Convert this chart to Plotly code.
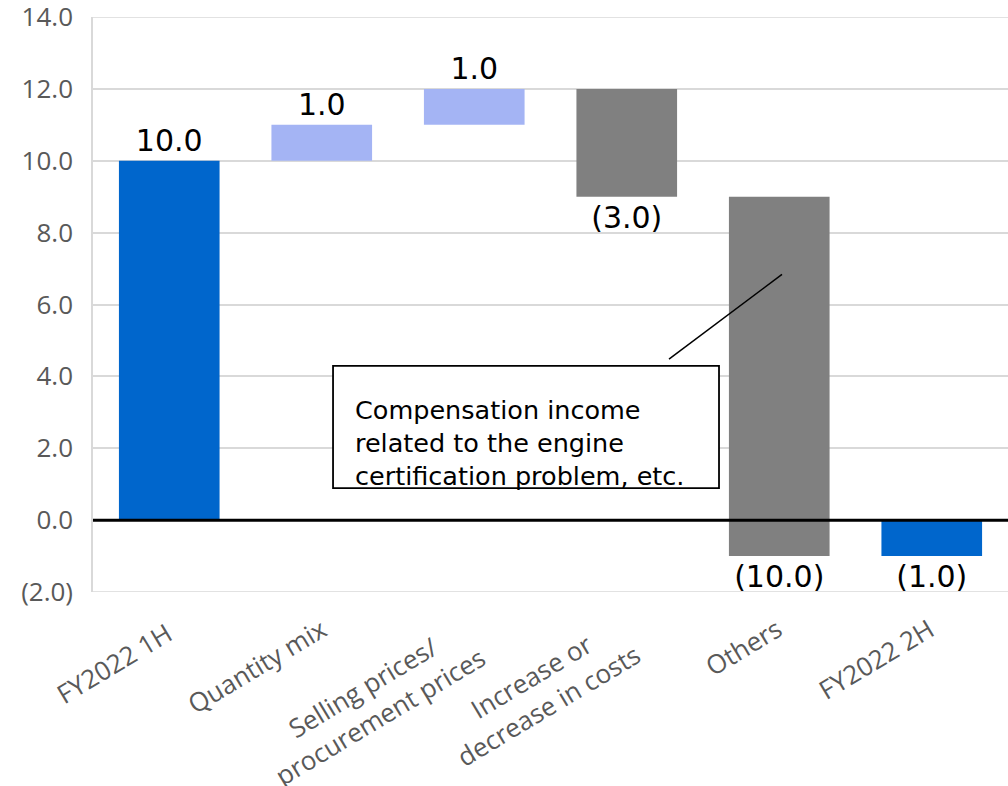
import plotly.graph_objects as go

# Waterfall steps: FY2022 1H -> FY2022 2H
categories = [
    "FY2022 1H",
    "Quantity mix",
    "Selling prices/<br>procurement prices",
    "Increase or<br>decrease in costs",
    "Others",
    "FY2022 2H",
]
values = [10.0, 1.0, 1.0, -3.0, -10.0, -1.0]
measures = ["total", "relative", "relative", "relative", "relative", "total"]

y_ticks = [-2, 0, 2, 4, 6, 8, 10, 12, 14]
y_tick_labels = ["(2.0)", "0.0", "2.0", "4.0", "6.0", "8.0", "10.0", "12.0", "14.0"]

note_text = "Compensation income<br>related to the engine<br>certification problem, etc."

COL_TOTAL = "#0066CC"
COL_UP = "#A4B4F4"
COL_DOWN = "#808080"
COL_GRID = "#D9D9D9"
COL_AXIS_TEXT = "#595959"

# plot area in pixels (top / bottom edges)
PLOT_TOP, PLOT_BOTTOM = 17, 592
PLOT_H = PLOT_BOTTOM - PLOT_TOP

# rotated category label placement: horizontal shift from the tick and
# vertical centre of the rotated text block, in pixels
label_dx = [-55, -65, -103, -87, -36, -56]
label_cy = [663, 666, 702, 691, 647, 659]


def fmt(v):
    return f"({abs(v):.1f})" if v < 0 else f"{v:.1f}"


bases, colors, texts = [], [], []
running = 0.0
for v, m in zip(values, measures):
    if m == "total":
        bases.append(0.0)
        colors.append(COL_TOTAL)
        running = v
    else:
        bases.append(running)
        colors.append(COL_UP if v >= 0 else COL_DOWN)
        running += v
    texts.append(fmt(v))

fig = go.Figure(
    go.Bar(
        x=categories,
        y=values,
        base=bases,
        marker=dict(color=colors, line=dict(width=0)),
        text=texts,
        textposition="outside",
        cliponaxis=False,
        textfont=dict(family="DejaVu Sans", size=30, color="#000000"),
        hoverinfo="skip",
    )
)

shapes = [
    # outer gridlines at the top and bottom of the value range
    dict(type="line", xref="paper", x0=0, x1=1, yref="y", y0=y_ticks[-1], y1=y_ticks[-1],
         line=dict(color=COL_GRID, width=1.5), layer="below"),
    dict(type="line", xref="paper", x0=0, x1=1, yref="y", y0=y_ticks[0], y1=y_ticks[0],
         line=dict(color=COL_GRID, width=1.5), layer="below"),
    # baseline at zero, drawn over the bars
    dict(type="line", xref="paper", x0=0, x1=1, yref="y", y0=0, y1=0,
         line=dict(color="#000000", width=3), layer="above"),
    # callout box
    dict(type="rect", xref="x", yref="y", x0=1.074, x1=3.605, y0=0.89, y1=4.29,
         fillcolor="#FFFFFF", line=dict(color="#000000", width=1.8), layer="above"),
    # leader line to the "Others" bar
    dict(type="line", xref="x", yref="y", x0=3.277, y0=4.48, x1=4.018, y1=6.84,
         line=dict(color="#000000", width=1.5), layer="above"),
]

annotations = [
    dict(x=1.205, y=2.14, xref="x", yref="y", text=note_text, showarrow=False,
         xanchor="left", yanchor="middle", align="left",
         font=dict(family="DejaVu Sans", size=25.5, color="#000000")),
]

# category labels, rotated and centred as text blocks
for cat, dx, cy in zip(categories, label_dx, label_cy):
    annotations.append(
        dict(x=cat, xref="x", xshift=dx,
             y=(PLOT_BOTTOM - cy) / PLOT_H, yref="paper",
             text=cat, showarrow=False, textangle=-31,
             xanchor="center", yanchor="middle", align="center",
             font=dict(family="Open Sans", size=26, color=COL_AXIS_TEXT))
    )

fig.update_layout(
    width=1008,
    height=786,
    margin=dict(l=93, r=0, t=PLOT_TOP, b=786 - PLOT_BOTTOM),
    paper_bgcolor="#FFFFFF",
    plot_bgcolor="#FFFFFF",
    bargap=0.34,
    showlegend=False,
    shapes=shapes,
    annotations=annotations,
    xaxis=dict(
        type="category",
        range=[-0.5, 5.5],
        showticklabels=False,
        showgrid=False,
        showline=False,
        ticks="",
        automargin=False,
    ),
    yaxis=dict(
        range=[-2, 14],
        tickvals=y_ticks,
        ticktext=y_tick_labels,
        tickfont=dict(family="Open Sans", size=26, color=COL_AXIS_TEXT),
        showgrid=True,
        gridcolor=COL_GRID,
        gridwidth=1.5,
        zeroline=False,
        showline=True,
        linecolor=COL_GRID,
        linewidth=1.5,
        ticks="",
        ticklabelstandoff=13,
        ticklabeloverflow="allow",
        automargin=False,
    ),
)

fig.write_html("out.html")
